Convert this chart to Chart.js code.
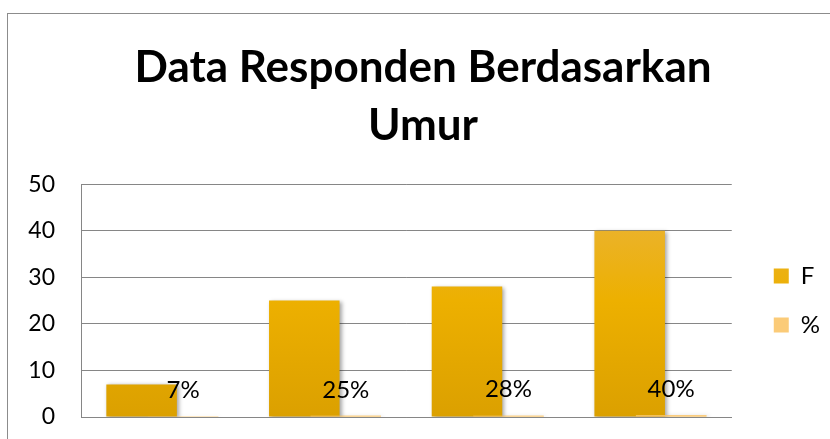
<!DOCTYPE html>
<html>
<head>
<meta charset="utf-8">
<script src="https://cdn.jsdelivr.net/npm/chart.js@4"></script>
<style>
  html, body { margin: 0; padding: 0; background: #fff; }
  #wrap { width: 830px; height: 439px; }
</style>
</head>
<body>
<div id="wrap"><canvas id="myChart" width="830" height="439"></canvas></div>
<script>
// data (category labels are not visible in it)
const categories = ['Kelompok 1', 'Kelompok 2', 'Kelompok 3', 'Kelompok 4'];
const frekuensi = [7, 25, 28, 40];
const persen = [0.07, 0.25, 0.28, 0.40];
const yTicks = [0, 10, 20, 30, 40, 50];

const FONT = 'Lato, "DejaVu Sans", sans-serif';

// gold gradient for the F bars
function goldGradient(ctx) {
    const area = ctx.chart.chartArea;
    if (!area) return '#EDB000';
    const g = ctx.chart.ctx.createLinearGradient(0, area.top, 0, area.bottom);
    g.addColorStop(0, '#E9B443');
    g.addColorStop(0.5, '#EDB000');
    g.addColorStop(1, '#DBA000');
    return g;
}

// frame around the chart, like the cropped excel box
const framePlugin = {
    id: 'frame',
    beforeDraw(chart) {
        const c = chart.ctx;
        c.save();
        c.fillStyle = '#fff';
        c.fillRect(0, 0, chart.width, chart.height);
        c.strokeStyle = '#8c8c8c';
        c.lineWidth = 1;
        c.strokeRect(7.5, 13.5, 900, 500);
        c.restore();
    }
};

// soft shadow under the bars
const shadowPlugin = {
    id: 'barShadow',
    beforeDatasetsDraw(chart) {
        const c = chart.ctx;
        c.save();
        c.shadowColor = 'rgba(0,0,0,0.35)';
        c.shadowBlur = 4;
        c.shadowOffsetX = 2;
        c.shadowOffsetY = 1;
    },
    afterDatasetsDraw(chart) {
        chart.ctx.restore();
    }
};

// % bars go over the F bars (like excel), then the percent labels
const labelPlugin = {
    id: 'pctLabels',
    afterDatasetsDraw(chart) {
        const c = chart.ctx;
        const meta = chart.getDatasetMeta(1);
        c.save();
        meta.data.forEach((bar) => bar.draw(c));
        c.font = '24px ' + FONT;
        c.fillStyle = '#000';
        c.textAlign = 'center';
        c.textBaseline = 'middle';
        meta.data.forEach((bar, i) => {
            c.fillText(Math.round(persen[i] * 100) + '%', bar.x, bar.y - 26);
        });
        c.restore();
    }
};

const ctx = document.getElementById('myChart').getContext('2d');
new Chart(ctx, {
    type: 'bar',
    data: {
        labels: categories,
        datasets: [
            {
                label: 'F',
                data: frekuensi,
                backgroundColor: goldGradient,
                categoryPercentage: 0.51,
                barPercentage: 1.7
            },
            {
                label: '%',
                data: persen,
                backgroundColor: '#FBCB78',
                categoryPercentage: 0.51,
                barPercentage: 1.7
            }
        ]
    },
    options: {
        responsive: false,
        animation: false,
        layout: { padding: { left: 16, right: 0, top: 0, bottom: 14 } },
        scales: {
            x: {
                ticks: { display: false },
                grid: { display: false },
                border: { color: '#868686', width: 1 }
            },
            y: {
                min: 0,
                max: 50,
                afterBuildTicks: (scale) => { scale.ticks = yTicks.map(v => ({ value: v })); },
                afterFit: (scale) => { scale.width = 65; },
                ticks: { font: { family: FONT, size: 23 }, color: '#000', padding: 0 },
                grid: { color: '#868686', drawTicks: true, tickLength: 26, tickColor: 'rgba(0,0,0,0)' },
                border: { color: '#868686', width: 1 }
            },
            // empty right scale, only keeps a gap between plot and legend
            gap: {
                type: 'linear',
                position: 'right',
                display: true,
                afterFit: (scale) => { scale.width = 17; },
                ticks: { display: false },
                grid: { display: false },
                border: { display: false }
            }
        },
        plugins: {
            title: {
                display: true,
                text: ['Data Responden Berdasarkan', 'Umur'],
                color: '#000',
                font: { family: FONT, size: 44, weight: 'bold', lineHeight: 1.32 },
                padding: { top: 39, bottom: 29 }
            },
            legend: {
                position: 'right',
                fullSize: false,
                labels: {
                    boxWidth: 15,
                    boxHeight: 15,
                    padding: 25,
                    color: '#000',
                    font: { family: FONT, size: 24 }
                }
            },
            tooltip: { enabled: false }
        }
    },
    plugins: [framePlugin, shadowPlugin, labelPlugin]
});
</script>
</body>
</html>
